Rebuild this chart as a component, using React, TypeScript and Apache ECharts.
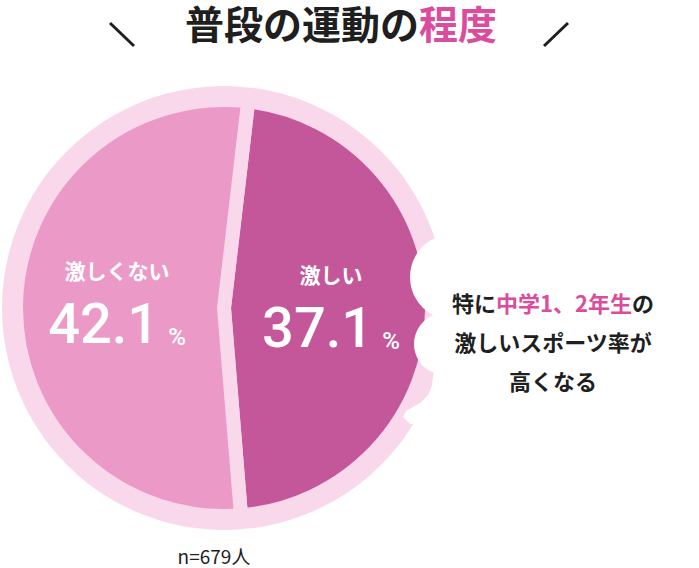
import { useEffect, useRef } from "react";
import * as echarts from "echarts";

// chart data
const categories = ["激しい", "激しくない"];
const shares = [37.1, 42.1];
const sampleSize = 679;
const titleText = "普段の運動の";
const titleAccent = "程度";
const noteLines = [
  ["特に", "中学1、2年生", "の"],
  ["激しいスポーツ率が"],
  ["高くなる"],
];

const SLICE_COLORS = ["#c4579a", "#eb9ac8"];
const RING = "#f9d8ec";
const ACCENT = "#dc4c9c";
const INK = "#1f1f1f";
const JP = "'Noto Sans CJK JP', 'Noto Sans', sans-serif";

const CX = 224;
const CY = 308;
const TITLE_SIZE = 39;
const TITLE_LEFT = 185;
const TITLE_Y = 22;

export default function App() {
  const chartRef = useRef<HTMLDivElement>(null);

  useEffect(() => {
    document.body.style.margin = "0";
    if (!chartRef.current) return;
    const chart = echarts.init(chartRef.current, undefined, { renderer: "svg" });

    const total = shares.reduce((a, b) => a + b, 0);
    const firstSpan = (360 * shares[0]) / total;

    // note text as rich string, the middle part of the first line is the accent
    const note = noteLines
      .map((parts) =>
        parts.map((p, i) => (parts.length === 3 && i === 1 ? `{p|${p}}` : `{b|${p}}`)).join("")
      )
      .join("\n");

    const option: echarts.EChartsOption = {
      animation: false,
      backgroundColor: "#fff",
      series: [
        {
          type: "pie",
          center: [CX, CY],
          radius: [0, 222],
          silent: true,
          label: { show: false },
          labelLine: { show: false },
          itemStyle: { color: RING },
          data: [{ name: "ring", value: 1 }],
        },
        {
          type: "pie",
          center: [CX, CY],
          radius: [0, 208],
          startAngle: -1 + firstSpan / 2,
          clockwise: true,
          silent: true,
          itemStyle: { borderColor: RING, borderWidth: 14 },
          label: {
            show: true,
            position: "inside",
            formatter: (p: any) =>
              `{name|${p.name}}\n{val|${Number(p.value).toFixed(1)}}{pct|%}`,
            rich: {
              name: {
                fontFamily: JP,
                fontWeight: "bold",
                fontSize: 21,
                color: "#fff",
                lineHeight: 36,
              },
              val: {
                fontFamily: "Roboto, sans-serif",
                fontWeight: 500,
                fontSize: 56,
                color: "#fff",
                lineHeight: 72,
              },
              pct: {
                fontFamily: "Roboto, sans-serif",
                fontWeight: 500,
                fontSize: 24,
                color: "#fff",
                padding: [26, 0, 0, 9],
              },
            },
          },
          labelLine: { show: false },
          data: categories.map((name, i) => ({
            name,
            value: shares[i],
            itemStyle: { color: SLICE_COLORS[i] },
          })),
        },
      ],
      graphic: [
        // title, two runs so the last word can take the accent colour
        {
          type: "text",
          x: TITLE_LEFT,
          y: TITLE_Y,
          z: 100,
          style: {
            text: titleText,
            align: "left",
            verticalAlign: "middle",
            fontFamily: JP,
            fontWeight: "bold",
            fontSize: TITLE_SIZE,
            fill: INK,
          },
        },
        {
          type: "text",
          x: TITLE_LEFT + titleText.length * TITLE_SIZE,
          y: TITLE_Y,
          z: 100,
          style: {
            text: titleAccent,
            align: "left",
            verticalAlign: "middle",
            fontFamily: JP,
            fontWeight: "bold",
            fontSize: TITLE_SIZE,
            fill: ACCENT,
          },
        },
        {
          type: "line",
          z: 100,
          shape: { x1: 110, y1: 23, x2: 134, y2: 46 },
          style: { stroke: INK, lineWidth: 3 },
        },
        {
          type: "line",
          z: 100,
          shape: { x1: 568, y1: 23, x2: 544, y2: 46 },
          style: { stroke: INK, lineWidth: 3 },
        },
        // callout cloud
        { type: "circle", z: 100, shape: { cx: 453, cy: 277, r: 43 }, style: { fill: "#fff" } },
        { type: "circle", z: 100, shape: { cx: 445, cy: 344, r: 31 }, style: { fill: "#fff" } },
        { type: "rect", z: 100, shape: { x: 448, y: 232, width: 251, height: 200 }, style: { fill: "#fff" } },
        {
          type: "polygon",
          z: 100,
          shape: {
            points: [
              [434, 370],
              [431, 392],
              [420, 403],
              [406, 411],
              [403, 417],
              [410, 424],
              [452, 424],
              [452, 370],
            ],
          },
          style: { fill: "#fff" },
        },
        {
          type: "text",
          x: 553,
          y: 341,
          z: 110,
          style: {
            text: note,
            align: "center",
            verticalAlign: "middle",
            rich: {
              b: { fontFamily: JP, fontWeight: "bold", fontSize: 22, fill: INK, lineHeight: 39 },
              p: { fontFamily: JP, fontWeight: "bold", fontSize: 22, fill: ACCENT, lineHeight: 39 },
            },
          },
        },
        {
          type: "text",
          x: 214,
          y: 555,
          z: 100,
          style: {
            text: `n=${sampleSize}人`,
            align: "center",
            verticalAlign: "middle",
            fontFamily: JP,
            fontSize: 19,
            fill: INK,
          },
        },
      ],
    };

    chart.setOption(option);
    return () => chart.dispose();
  }, []);

  return <div ref={chartRef} style={{ width: 699, height: 568 }} />;
}
